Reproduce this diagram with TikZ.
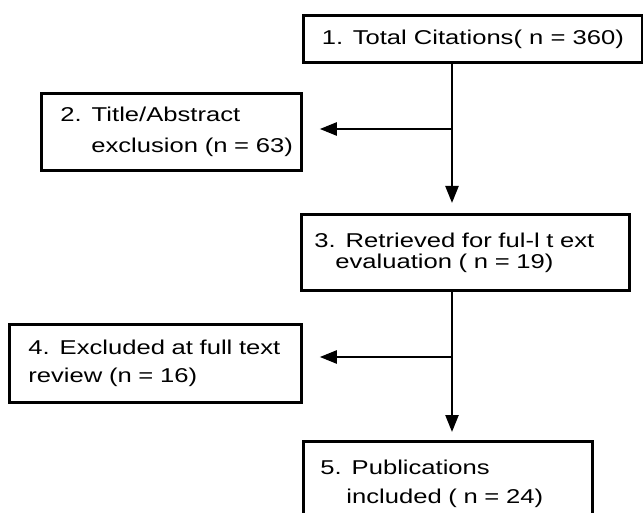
\documentclass[tikz,border=0pt]{standalone}
\usepackage{fontspec}
\setmainfont{Liberation Sans}[FakeStretch=1.28]
\usepackage{tikz}
\usetikzlibrary{arrows.meta}

\begin{document}
\begin{tikzpicture}[x=1pt, y=-1pt, >={Triangle[length=17pt, width=13pt]}, line width=2.4pt]
\tikzstyle{stage}=[draw=black, line width=2.8pt, anchor=north west, inner xsep=0pt, inner ysep=0pt, align=left]

\useasboundingbox (0,0) rectangle (643,513);

\node[stage, minimum width=339pt, minimum height=47pt, align=center, font=\fontsize{20}{24}\selectfont] (total) at (302,14) {1. Total Citations( n = 360)};
\node[stage, minimum width=260pt, minimum height=77pt, text width=260pt, font=\fontsize{20}{31}\selectfont] (title) at (40,92) {\hspace*{19pt}2. Title/Abstract\\\hspace*{50pt}exclusion (n = 63)};
\node[stage, minimum width=328pt, minimum height=76pt, text width=328pt, font=\fontsize{20}{21}\selectfont] (fulltext) at (300,213) {\hspace*{13pt}3. Retrieved for ful-l t ext\\\hspace*{34pt}evaluation ( n = 19)};
\node[stage, minimum width=292pt, minimum height=78pt, text width=292pt, font=\fontsize{20}{28}\selectfont] (excluded) at (8,323) {\hspace*{19pt}4. Excluded at full text\\\hspace*{19pt}review (n = 16)};
\node[stage, minimum width=289pt, minimum height=84pt, text width=289pt, font=\fontsize{20}{29}\selectfont] (included) at (302,440) {\hspace*{17pt}5. Publications\\\hspace*{43pt}included ( n = 24)};

\coordinate (split1) at (452,129);
\coordinate (split2) at (452,357);

\path[->] (total.south -| split1) edge[shorten >=10pt] (fulltext.north -| split1);
\path[->] (split1) edge[shorten >=17pt] (title.east |- split1);
\path[->] (fulltext.south -| split2) edge[shorten >=8pt] (included.north -| split2);
\path[->] (split2) edge[shorten >=17pt] (excluded.east |- split2);
\end{tikzpicture}
\end{document}
